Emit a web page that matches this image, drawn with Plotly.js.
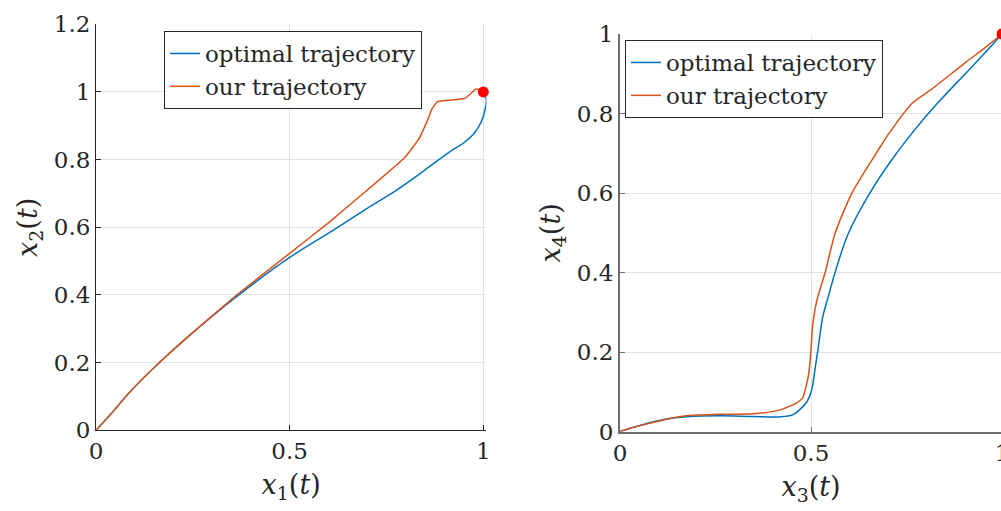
<!DOCTYPE html>
<html>
<head>
<meta charset="utf-8">
<script src="https://cdn.plot.ly/plotly-3.0.1.min.js"></script>
<style>
  html, body { margin: 0; padding: 0; overflow: hidden; background: #ffffff; }
  #chart { width: 1010px; height: 511px; }
</style>
</head>
<body>
<div id="chart"></div>
<script>
// Phase portrait (x1, x2): optimal vs. our trajectory
const x1Optimal = [0, 0.036, 0.088, 0.157, 0.243, 0.363, 0.5, 0.613, 0.707, 0.776, 0.85, 0.914, 0.95, 0.978, 0.996, 1.005, 1.008, 1.004, 1.0];
const x2Optimal = [0, 0.045, 0.114, 0.193, 0.282, 0.395, 0.511, 0.592, 0.661, 0.710, 0.770, 0.824, 0.850, 0.880, 0.915, 0.950, 0.975, 0.992, 1.0];
const x1Ours = [0, 0.036, 0.088, 0.157, 0.243, 0.363, 0.5, 0.604, 0.69, 0.776, 0.80, 0.819, 0.834, 0.845, 0.858, 0.867, 0.881, 0.953, 0.981, 0.991, 1.0];
const x2Ours = [0, 0.045, 0.114, 0.193, 0.282, 0.40, 0.523, 0.617, 0.70, 0.784, 0.81, 0.838, 0.862, 0.888, 0.922, 0.949, 0.971, 0.981, 1.009, 1.006, 1.0];

// Phase portrait (x3, x4)
const x3Optimal = [0, 0.04, 0.087, 0.13, 0.174, 0.261, 0.348, 0.417, 0.452, 0.469, 0.487, 0.496, 0.503, 0.509, 0.518, 0.531, 0.544, 0.563, 0.598, 0.654, 0.72, 0.774, 0.835, 0.904, 0.955, 1.0];
const x4Optimal = [0, 0.012, 0.025, 0.033, 0.0375, 0.040, 0.038, 0.037, 0.042, 0.054, 0.072, 0.088, 0.11, 0.147, 0.205, 0.29, 0.335, 0.40, 0.499, 0.60, 0.695, 0.762, 0.83, 0.90, 0.952, 1.0];
const x3Ours = [0, 0.04, 0.087, 0.13, 0.174, 0.261, 0.348, 0.417, 0.46, 0.478, 0.487, 0.493, 0.498, 0.504, 0.51, 0.518, 0.537, 0.563, 0.607, 0.676, 0.704, 0.765, 0.817, 0.904, 0.955, 1.0];
const x4Ours = [0, 0.012, 0.023, 0.033, 0.04, 0.0435, 0.045, 0.054, 0.071, 0.085, 0.113, 0.14, 0.18, 0.264, 0.305, 0.34, 0.40, 0.499, 0.60, 0.708, 0.750, 0.826, 0.862, 0.928, 0.965, 1.0];

// Common target state
const targetX = [1];
const targetY = [1];

const seriesNames = ['optimal trajectory', 'our trajectory'];
const blue = '#0072BD';
const orange = '#D95319';

const W = 1010, H = 511;
const FONT = 'DejaVu Serif';
const INK = '#262626';

function line(x, y, name, color, xa, ya, legend, smooth) {
  const ln = { color: color, width: 1.5 };
  if (smooth > 0) { ln.shape = 'spline'; ln.smoothing = smooth; }
  return { x: x, y: y, name: name, type: 'scatter', mode: 'lines', line: ln,
           xaxis: xa, yaxis: ya, legend: legend };
}

const traces = [
  line(x1Optimal, x2Optimal, seriesNames[0], blue, 'x', 'y', 'legend', 1),
  line(x1Ours, x2Ours, seriesNames[1], orange, 'x', 'y', 'legend', 0.3),
  line(x3Optimal, x4Optimal, seriesNames[0], blue, 'x2', 'y2', 'legend2', 1),
  line(x3Ours, x4Ours, seriesNames[1], orange, 'x2', 'y2', 'legend2', 0.6),
  { x: targetX, y: targetY, type: 'scatter', mode: 'markers', showlegend: false,
    marker: { color: '#ff0000', size: 11 }, xaxis: 'x', yaxis: 'y', cliponaxis: false },
  { x: targetX, y: targetY, type: 'scatter', mode: 'markers', showlegend: false,
    marker: { color: '#ff0000', size: 11 }, xaxis: 'x2', yaxis: 'y2', cliponaxis: false }
];

function axis(extra, lineColor, lineWidth) {
  return Object.assign({
    showline: true, linecolor: lineColor, linewidth: lineWidth, mirror: false,
    showgrid: true, gridcolor: '#e3e3e3', gridwidth: 1, zeroline: false,
    ticks: 'inside', ticklen: 5, tickcolor: lineColor, tickwidth: 1,
    tickfont: { family: FONT, size: 23, color: INK },
    automargin: false, fixedrange: true
  }, extra);
}

const titleFont = { family: FONT, size: 27, color: INK };

// left x axis runs a touch past 1 so the loop of the optimal path stays visible
const xMax1 = 1.008;
const px0 = 96, pxPerUnit = 387.3;

const layout = {
  width: W, height: H,
  margin: { l: 0, r: 0, t: 0, b: 0 },
  paper_bgcolor: '#ffffff', plot_bgcolor: '#ffffff',
  showlegend: true,
  xaxis: axis({ domain: [px0 / W, (px0 + pxPerUnit * xMax1) / W], range: [0, xMax1], tickvals: [0, 0.5, 1], anchor: 'y',
                title: { text: '<i>x</i><sub>1</sub>(<i>t</i>)', font: titleFont, standoff: 12 } }, INK, 1),
  yaxis: axis({ domain: [(H - 430.3) / H, (H - 24.3) / H], range: [0, 1.2], tickvals: [0, 0.2, 0.4, 0.6, 0.8, 1, 1.2], anchor: 'x',
                title: { text: '<i>x</i><sub>2</sub>(<i>t</i>)', font: titleFont, standoff: 8 } }, INK, 1),
  xaxis2: axis({ domain: [620 / W, 1002 / W], range: [0, 1], tickvals: [0, 0.5, 1], anchor: 'y2',
                 title: { text: '<i>x</i><sub>3</sub>(<i>t</i>)', font: titleFont, standoff: 12 } }, '#6e6e6e', 2),
  yaxis2: axis({ domain: [(H - 431.6) / H, (H - 34) / H], range: [0, 1], tickvals: [0, 0.2, 0.4, 0.6, 0.8, 1], anchor: 'x2',
                 title: { text: '<i>x</i><sub>4</sub>(<i>t</i>)', font: titleFont, standoff: 8 } }, '#6e6e6e', 2),
  legend: { x: 164 / W, y: (H - 31) / H, xanchor: 'left', yanchor: 'top',
            bgcolor: '#ffffff', bordercolor: INK, borderwidth: 1,
            font: { family: FONT, size: 23, color: INK } },
  legend2: { x: 625 / W, y: (H - 40) / H, xanchor: 'left', yanchor: 'top',
             bgcolor: '#ffffff', bordercolor: INK, borderwidth: 1,
             font: { family: FONT, size: 23, color: INK } }
};

Plotly.newPlot('chart', traces, layout, { displayModeBar: false, staticPlot: true });
</script>
</body>
</html>
